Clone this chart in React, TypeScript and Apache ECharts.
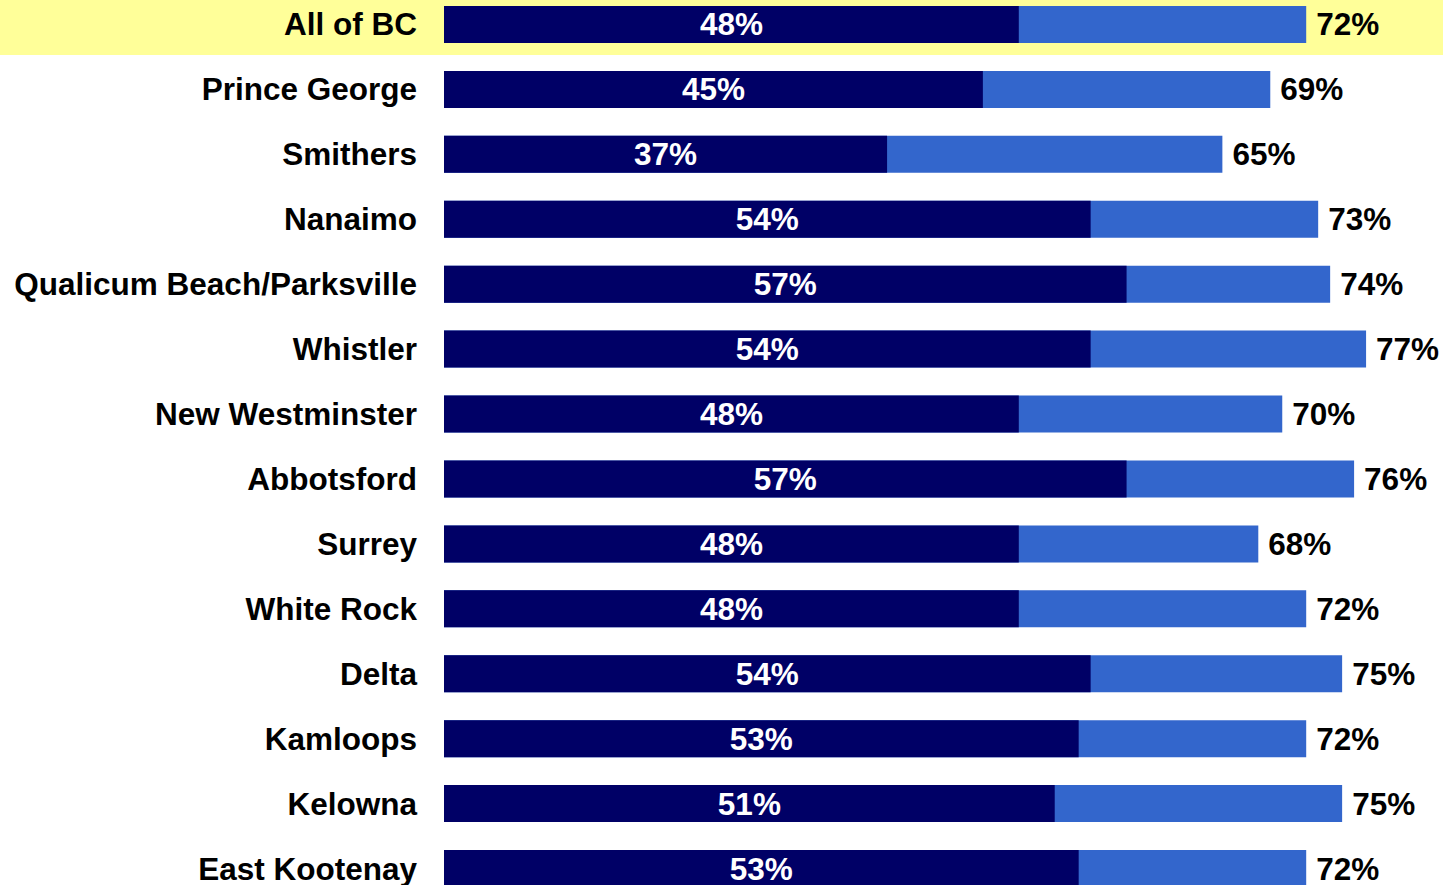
import React, { useEffect, useRef } from "react";
import * as echarts from "echarts";

const regions = [
  "All of BC",
  "Prince George",
  "Smithers",
  "Nanaimo",
  "Qualicum Beach/Parksville",
  "Whistler",
  "New Westminster",
  "Abbotsford",
  "Surrey",
  "White Rock",
  "Delta",
  "Kamloops",
  "Kelowna",
  "East Kootenay",
];
const innerValues = [48, 45, 37, 54, 57, 54, 48, 57, 48, 48, 54, 53, 51, 53];
const totalValues = [72, 69, 65, 73, 74, 77, 70, 76, 68, 72, 75, 72, 75, 72];
const highlighted = "All of BC";

const FONT = "'Liberation Sans', Arial, sans-serif";
const FS = 31.5;

export default function App() {
  const ref = useRef<HTMLDivElement>(null);
  useEffect(() => {
    if (!ref.current) return;
    const chart = echarts.init(ref.current, null, { renderer: "svg" });
    chart.setOption({
      animation: false,
      backgroundColor: "#ffffff",
      grid: { left: 444, top: 0, width: 958, height: 909, containLabel: false },
      xAxis: {
        type: "value",
        min: 0,
        max: 80,
        show: false,
        splitLine: { show: false },
      },
      yAxis: {
        type: "category",
        inverse: true,
        data: regions,
        axisLine: { show: false },
        axisTick: { show: false },
        axisLabel: {
          margin: 27,
          color: "#000000",
          fontFamily: FONT,
          fontWeight: "bold",
          fontSize: FS,
        },
      },
      series: [
        {
          type: "bar",
          name: "total",
          data: totalValues,
          barWidth: 37,
          barGap: "-100%",
          z: 2,
          itemStyle: { color: "#3366CC" },
          label: {
            show: true,
            position: "right",
            distance: 10,
            formatter: "{c}%",
            color: "#000000",
            fontFamily: FONT,
            fontWeight: "bold",
            fontSize: FS,
          },
        },
        {
          type: "bar",
          name: "inner",
          data: innerValues,
          barWidth: 37,
          barGap: "-100%",
          z: 3,
          itemStyle: { color: "#000066" },
          label: {
            show: true,
            position: "inside",
            formatter: "{c}%",
            color: "#ffffff",
            fontFamily: FONT,
            fontWeight: "bold",
            fontSize: FS,
          },
        },
      ],
    });
    const c0 = chart.convertToPixel({ yAxisIndex: 0 }, highlighted) as number;
    const c1 = chart.convertToPixel({ yAxisIndex: 0 }, regions[1]) as number;
    const band = Math.abs(c1 - c0);
    chart.setOption({
      graphic: [
        {
          type: "rect",
          z: -10,
          silent: true,
          shape: { x: 0, y: c0 - band / 2, width: chart.getWidth(), height: band - 2 },
          style: { fill: "#FFFF99" },
        },
      ],
    });
    return () => chart.dispose();
  }, []);
  return (
    <div
      ref={ref}
      style={{ position: "fixed", left: 0, top: -8, width: 1443, height: 909 }}
    />
  );
}
